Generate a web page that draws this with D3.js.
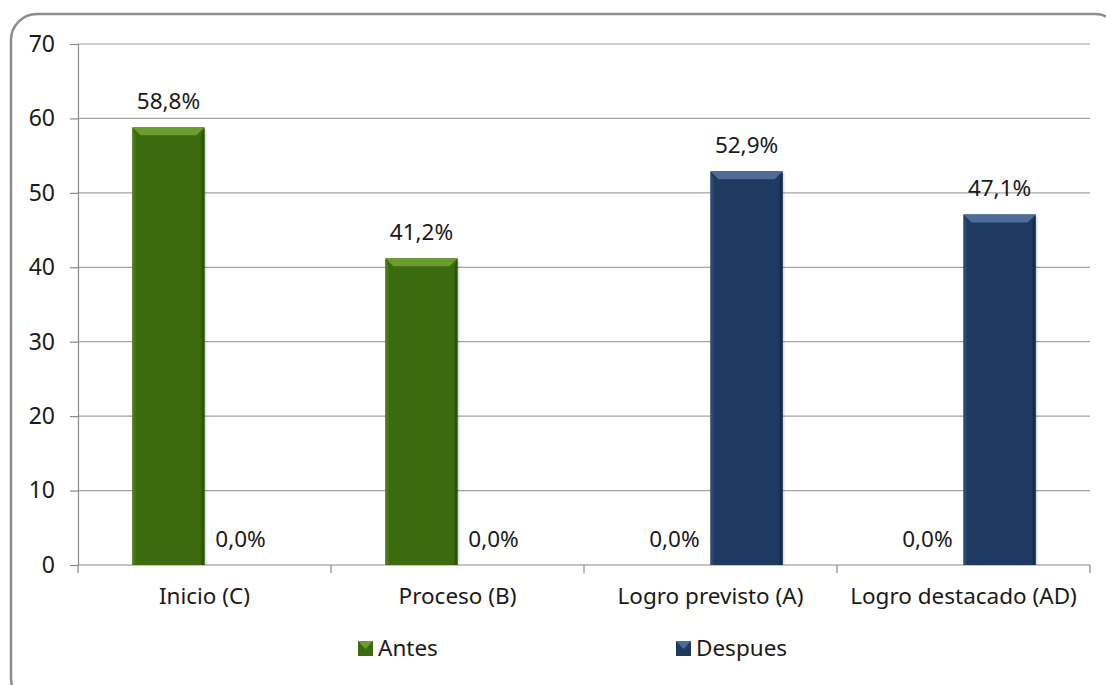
<!DOCTYPE html>
<html>
<head>
<meta charset="utf-8">
<script src="https://cdn.jsdelivr.net/npm/d3@7"></script>
<style>
  html, body { margin: 0; padding: 0; background: #ffffff; }
  svg { display: block; }
  text { font-family: "Noto Sans", "Open Sans", sans-serif; fill: #1a1a1a; }
</style>
</head>
<body>
<svg id="chart" width="1106" height="685"></svg>
<script>
// Categories, series and values
const categories = ["Inicio (C)", "Proceso (B)", "Logro previsto (A)", "Logro destacado (AD)"];
const seriesNames = ["Antes", "Despues"];
const antes   = [58.8, 41.2, 0.0, 0.0];
const despues = [0.0, 0.0, 52.9, 47.1];
const yTicks  = [0, 10, 20, 30, 40, 50, 60, 70];

const seriesValues = { "Antes": antes, "Despues": despues };
const palette = {
  "Antes":   { main: "#3c6b0d", top: "#6a9c2e", light: "#4a7b17", dark: "#2d5308" },
  "Despues": { main: "#1e3a61", top: "#4d6c98", light: "#2a4a75", dark: "#152b4a" }
};

const labelSize = 22.5;
const svg = d3.select("#chart");

// Rounded outer frame
svg.append("rect")
  .attr("x", 11).attr("y", 14)
  .attr("width", 1110).attr("height", 690)
  .attr("rx", 26).attr("ry", 26)
  .attr("fill", "#ffffff")
  .attr("stroke", "#8c8c8c")
  .attr("stroke-width", 2.5);

const plot = { left: 78, right: 1090, top: 44, bottom: 565 };

const x0 = d3.scaleBand()
  .domain(categories)
  .range([plot.left, plot.right])
  .paddingInner(0.43)
  .paddingOuter(0.215);

const x1 = d3.scaleBand()
  .domain(seriesNames)
  .range([0, x0.bandwidth()]);

const y = d3.scaleLinear()
  .domain([0, 70])
  .range([plot.bottom, plot.top]);

// Horizontal gridlines
svg.append("g")
  .selectAll("line")
  .data(yTicks.filter(d => d > 0))
  .join("line")
  .attr("x1", plot.left).attr("x2", plot.right)
  .attr("y1", d => y(d)).attr("y2", d => y(d))
  .attr("stroke", "#a3a3a3")
  .attr("stroke-width", 1.2);

// Y axis
const yAxis = svg.append("g")
  .attr("transform", `translate(${plot.left},0)`)
  .call(d3.axisLeft(y).tickValues(yTicks).tickSize(8).tickPadding(15).tickFormat(d3.format("d")));
yAxis.select(".domain").attr("stroke", "#8a8a8a").attr("stroke-width", 1.2);
yAxis.selectAll(".tick line").attr("stroke", "#8a8a8a").attr("stroke-width", 1.2);
yAxis.selectAll(".tick text")
  .attr("font-size", 23)
  .style("font-family", "'Noto Sans', sans-serif")
  .attr("fill", "#1a1a1a");

// X axis along zero with category separators
const step = x0.step();
const sepPositions = d3.range(categories.length + 1).map(i => plot.left + i * step);
const xg = svg.append("g");
xg.append("line")
  .attr("x1", plot.left).attr("x2", plot.right)
  .attr("y1", y(0)).attr("y2", y(0))
  .attr("stroke", "#8a8a8a").attr("stroke-width", 1.2);
xg.selectAll("line.sep")
  .data(sepPositions)
  .join("line")
  .attr("class", "sep")
  .attr("x1", d => d).attr("x2", d => d)
  .attr("y1", y(0)).attr("y2", y(0) + 8)
  .attr("stroke", "#8a8a8a").attr("stroke-width", 1.2);
xg.selectAll("text")
  .data(categories)
  .join("text")
  .attr("x", d => x0(d) + x0.bandwidth() / 2)
  .attr("y", y(0) + 39)
  .attr("text-anchor", "middle")
  .attr("font-size", labelSize)
  .text(d => d);

// Bars with a bevelled top edge
const barData = [];
categories.forEach((c, i) => {
  seriesNames.forEach(s => {
    barData.push({ cat: c, series: s, value: seriesValues[s][i] });
  });
});

const bars = svg.append("g");
barData.forEach(d => {
  const bx = x0(d.cat) + x1(d.series);
  const bw = x1.bandwidth();
  const by = y(d.value);
  const bh = y(0) - by;
  if (bh <= 0) return;
  const col = palette[d.series];
  const b = Math.min(8, bh / 2);
  const g = bars.append("g");
  // soft shadow to the right
  g.append("rect")
    .attr("x", bx + 2).attr("y", by + 2)
    .attr("width", bw).attr("height", bh - 2)
    .attr("fill", "#000").attr("opacity", 0.12);
  g.append("rect")
    .attr("x", bx).attr("y", by)
    .attr("width", bw).attr("height", bh)
    .attr("fill", col.main);
  // left and right bevel edges
  g.append("path")
    .attr("d", `M${bx},${by}L${bx + 3},${by + b}L${bx + 3},${by + bh}L${bx},${by + bh}Z`)
    .attr("fill", col.light);
  g.append("path")
    .attr("d", `M${bx + bw},${by}L${bx + bw - 3},${by + b}L${bx + bw - 3},${by + bh}L${bx + bw},${by + bh}Z`)
    .attr("fill", col.dark);
  // top bevel
  g.append("path")
    .attr("d", `M${bx},${by}L${bx + bw},${by}L${bx + bw - b},${by + b}L${bx + b},${by + b}Z`)
    .attr("fill", col.top);
});

// Value labels
svg.append("g")
  .selectAll("text")
  .data(barData)
  .join("text")
  .attr("x", d => x0(d.cat) + x1(d.series) + x1.bandwidth() / 2)
  .attr("y", d => y(d.value) - 18)
  .attr("text-anchor", "middle")
  .attr("font-size", labelSize)
  .text(d => d3.format(".1f")(d.value).replace(".", ",") + "%");

// Legend
const legendPos = { "Antes": 358, "Despues": 676 };
const legend = svg.append("g");
seriesNames.forEach(s => {
  const lx = legendPos[s];
  const col = palette[s];
  legend.append("rect")
    .attr("x", lx).attr("y", 641)
    .attr("width", 15).attr("height", 15)
    .attr("fill", col.main);
  legend.append("path")
    .attr("d", `M${lx},${641}L${lx + 15},${641}L${lx + 7.5},${649}Z`)
    .attr("fill", col.top);
  legend.append("text")
    .attr("x", lx + 20).attr("y", 656)
    .attr("font-size", labelSize)
    .text(s);
});
</script>
</body>
</html>
